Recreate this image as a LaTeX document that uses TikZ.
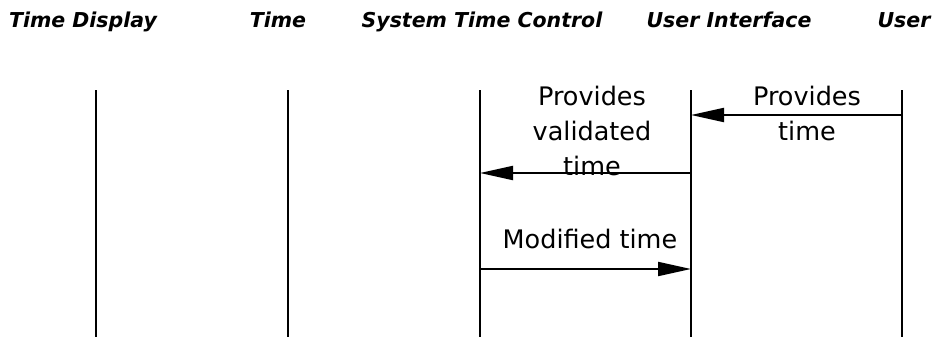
\documentclass[tikz,border=0pt]{standalone}
\usepackage{fontspec}
\setmainfont{DejaVu Sans}
\usetikzlibrary{arrows.meta}
\begin{document}
\begin{tikzpicture}[x=1pt,y=-1pt,
  head/.style={font=\fontsize{20.5}{24}\selectfont\bfseries\itshape, anchor=base, inner sep=0pt},
  msg/.style={font=\fontsize{25.5}{35}\selectfont, align=center, inner sep=0pt, anchor=base},
  life/.style={line width=2pt},
  call/.style={line width=2pt, -{Triangle[length=33pt,width=14pt]}}]
\useasboundingbox (0,0) rectangle (939,337);
% headers
\node[head] (h1) at (83,28) {Time Display};
\node[head] (h2) at (278,28) {Time};
\node[head] (h3) at (482,28) {System Time Control};
\node[head] (h4) at (729,28) {User Interface};
\node[head] (h5) at (904,28) {User};
% lifelines
\coordinate (a1) at (96,90);  \coordinate (b1) at (96,337);
\coordinate (a2) at (288,90); \coordinate (b2) at (288,337);
\coordinate (a3) at (480,90); \coordinate (b3) at (480,337);
\coordinate (a4) at (691,90); \coordinate (b4) at (691,337);
\coordinate (a5) at (902,90); \coordinate (b5) at (902,337);
\foreach \i in {1,...,5} {\draw[life] (a\i) -- (b\i);}
% message points
\coordinate (m1s) at (902,115); \coordinate (m1e) at (691,115);
\coordinate (m2s) at (691,173); \coordinate (m2e) at (480,173);
\coordinate (m3s) at (480,269); \coordinate (m3e) at (691,269);
\draw[call] (m1s) -- (m1e);
\draw[call] (m2s) -- (m2e);
\draw[call] (m3s) -- (m3e);
% labels
\node[msg] (l1) at (807,140) {Provides\\time};
\node[msg] (l2) at (592,175) {Provides\\validated\\time};
\node[msg] (l3) at (590,248) {Modified time};
\end{tikzpicture}
\end{document}
